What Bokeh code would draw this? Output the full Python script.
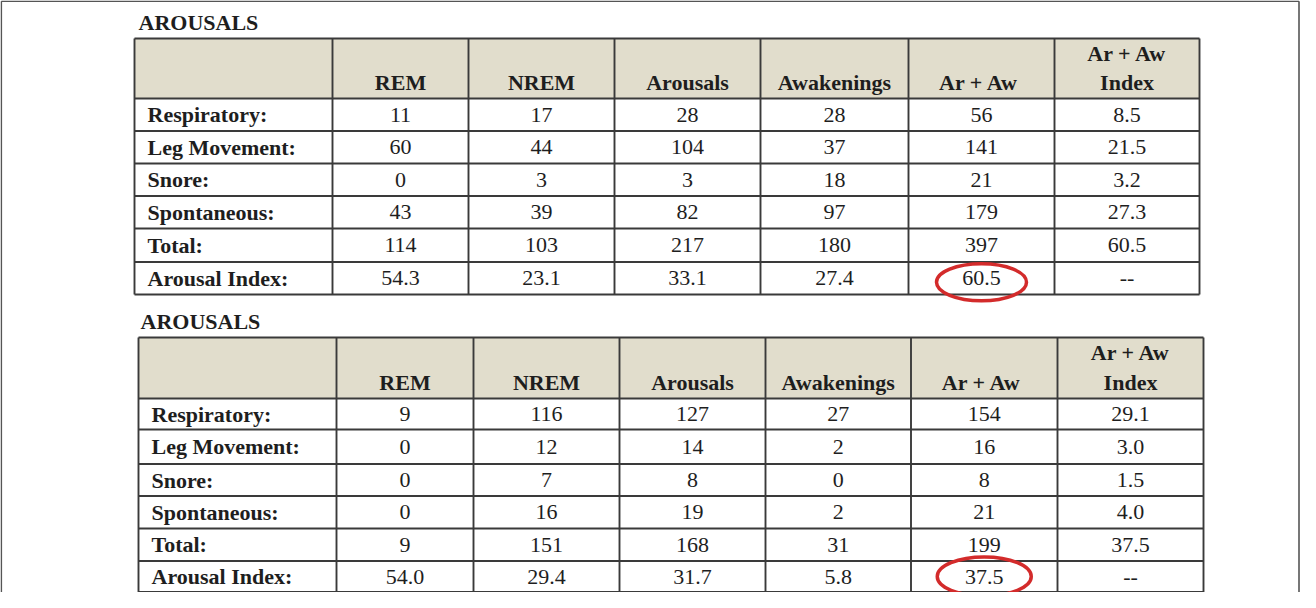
from bokeh.plotting import figure
from bokeh.models import Range1d, ColumnDataSource
from bokeh.core.properties import value
from bokeh.embed import file_html
from bokeh.resources import INLINE

# ---------------- data ----------------
title_text = "AROUSALS"
col_headers = ["REM", "NREM", "Arousals", "Awakenings", "Ar  + Aw"]
index_header = ["Ar + Aw", "Index"]
row_labels = ["Respiratory:", "Leg Movement:", "Snore:", "Spontaneous:",
              "Total:", "Arousal Index:"]

t1_rem = ["11", "60", "0", "43", "114", "54.3"]
t1_nrem = ["17", "44", "3", "39", "103", "23.1"]
t1_arousals = ["28", "104", "3", "82", "217", "33.1"]
t1_awakenings = ["28", "37", "18", "97", "180", "27.4"]
t1_ar_aw = ["56", "141", "21", "179", "397", "60.5"]
t1_index = ["8.5", "21.5", "3.2", "27.3", "60.5", "--"]

t2_rem = ["9", "0", "0", "0", "9", "54.0"]
t2_nrem = ["116", "12", "7", "16", "151", "29.4"]
t2_arousals = ["127", "14", "8", "19", "168", "31.7"]
t2_awakenings = ["27", "2", "0", "2", "31", "5.8"]
t2_ar_aw = ["154", "16", "8", "21", "199", "37.5"]
t2_index = ["29.1", "3.0", "1.5", "4.0", "37.5", "--"]

highlight_row = 5   # Arousal Index
highlight_col = 4   # Ar + Aw

# ---------------- layout (page pixel grid) ----------------
T1_X = [142, 340, 476, 622, 768, 916, 1062, 1207]
T1_Y = [46, 106, 138.5, 171, 203.5, 236, 269.5, 302]
T2_X = [146, 344, 481, 627, 773, 918.5, 1065, 1211]
T2_Y = [345, 406, 437, 471.5, 503.5, 536, 568.5, 599.5]

FONT = value("Liberation Serif")
FS = "22px"
TXT = "#1e1e1e"
GRID = "#3a3a3a"
HEAD_FILL = "#e1ddcc"

p = figure(width=1300, height=592, output_backend="svg", toolbar_location=None,
           x_range=Range1d(8, 1308), y_range=Range1d(600, 8),
           min_border=0, outline_line_color=None)
p.axis.visible = False
p.grid.visible = False
p.background_fill_color = "white"
p.border_fill_color = "white"

# outer page frame
p.segment(x0=[8.8, 8.8, 1306.5], y0=[8.8, 8.8, 8.8], x1=[1306.5, 8.8, 1306.5],
          y1=[8.8, 600, 600], line_color="#555555", line_width=1.6)


def draw_table(xs, ys, cols, title_dx, ell_dy, ell_w, ell_h):
    left, right = xs[0], xs[-1]
    top, head_bot = ys[0], ys[1]
    # header fill
    p.quad(left=[left], right=[right], top=[top], bottom=[head_bot],
           fill_color=HEAD_FILL, line_color=None)
    # grid lines
    hx0 = [left] * len(ys)
    hx1 = [right] * len(ys)
    p.segment(x0=hx0, y0=ys, x1=hx1, y1=ys, line_color=GRID, line_width=1.9)
    p.segment(x0=xs, y0=[top] * len(xs), x1=xs, y1=[ys[-1]] * len(xs),
              line_color=GRID, line_width=1.9)
    # title
    p.text(x=[left + title_dx], y=[top - 16], text=[title_text], text_font=FONT,
           text_font_size=FS, text_font_style="bold", text_color=TXT,
           text_align="left", text_baseline="middle")
    # header labels
    cx = [(xs[i] + xs[i + 1]) / 2 for i in range(len(xs) - 1)]
    hy = head_bot - 16
    p.text(x=cx[1:6], y=[hy] * 5, text=col_headers, text_font=FONT,
           text_font_size=FS, text_font_style="bold", text_color=TXT,
           text_align="center", text_baseline="middle")
    p.text(x=[cx[6], cx[6]], y=[top + 15, hy], text=index_header, text_font=FONT,
           text_font_size=FS, text_font_style="bold", text_color=TXT,
           text_align="center", text_baseline="middle")
    # row labels
    ry = [(ys[i] + ys[i + 1]) / 2 for i in range(1, len(ys) - 1)]
    p.text(x=[left + 13] * len(row_labels), y=ry, text=row_labels, text_font=FONT,
           text_font_size=FS, text_font_style="bold", text_color=TXT,
           text_align="left", text_baseline="middle")
    # values
    for ci, col in enumerate(cols):
        src = ColumnDataSource(dict(x=[cx[ci + 1]] * len(col), y=ry, t=col))
        p.text(x="x", y="y", text="t", source=src, text_font=FONT,
               text_font_size=FS, text_color=TXT, text_align="center",
               text_baseline="middle")
    # highlight ellipse
    p.ellipse(x=[cx[highlight_col + 1]], y=[ry[highlight_row] + ell_dy],
              width=ell_w, height=ell_h, fill_color=None,
              line_color="#d32b2b", line_width=3.5)


draw_table(T1_X, T1_Y, [t1_rem, t1_nrem, t1_arousals, t1_awakenings, t1_ar_aw, t1_index],
           4, 4, 90, 37)
draw_table(T2_X, T2_Y, [t2_rem, t2_nrem, t2_arousals, t2_awakenings, t2_ar_aw, t2_index],
           2, 0, 94, 39)

open("out.html", "w").write(file_html(p, INLINE))
